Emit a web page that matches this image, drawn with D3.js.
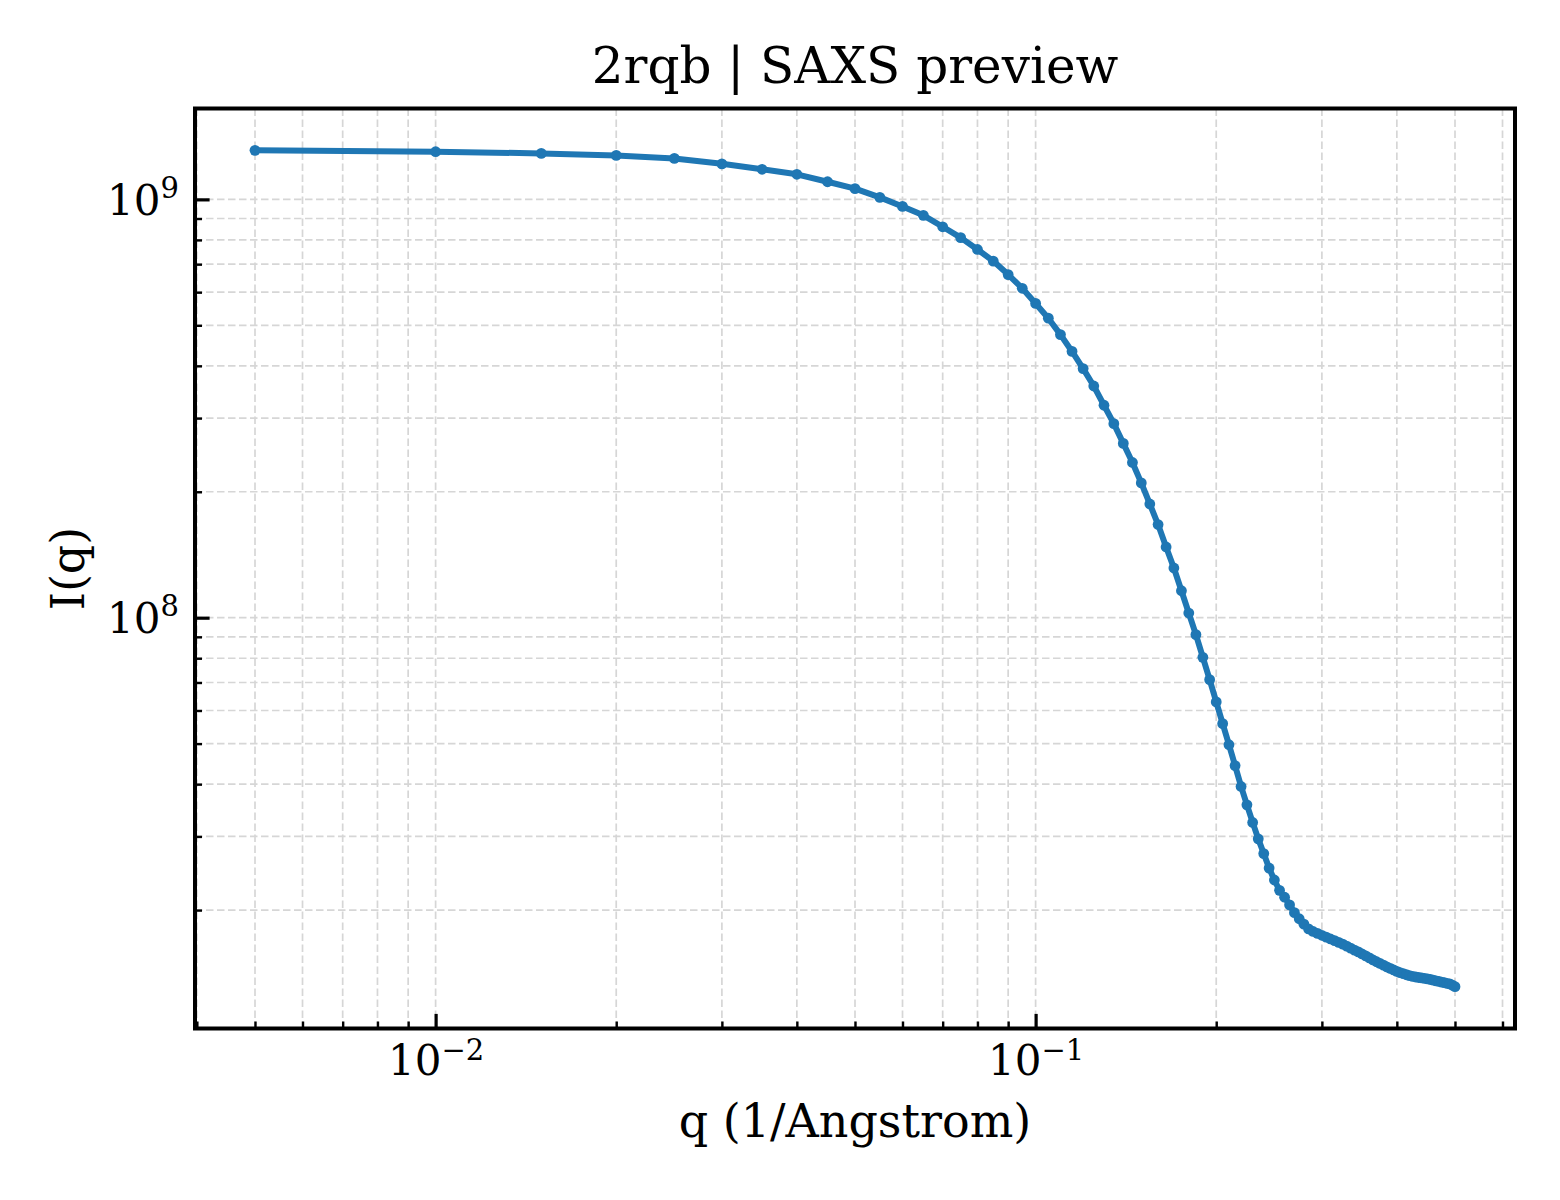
<!DOCTYPE html>
<html>
<head>
<meta charset="utf-8">
<script src="https://cdn.jsdelivr.net/npm/d3@7"></script>
<style>
  body { margin: 0; background: #fff; }
  svg text { font-family: "DejaVu Serif", serif; fill: #000; }
</style>
</head>
<body>
<div id="chart"></div>
<script>
const chartTitle = "2rqb | SAXS preview";
const xLabel = "q (1/Angstrom)";
const yLabel = "I(q)";

const qValues = [
  0.005, 0.010, 0.015, 0.020, 0.025, 0.030, 0.035, 0.040, 0.045, 0.050,
  0.055, 0.060, 0.065, 0.070, 0.075, 0.080, 0.085, 0.090, 0.095, 0.100,
  0.105, 0.110, 0.115, 0.120, 0.125, 0.130, 0.135, 0.140, 0.145, 0.150,
  0.155, 0.160, 0.165, 0.170, 0.175, 0.180, 0.185, 0.190, 0.195, 0.200,
  0.205, 0.210, 0.215, 0.220, 0.225, 0.230, 0.235, 0.240, 0.245, 0.250,
  0.255, 0.260, 0.265, 0.270, 0.275, 0.280, 0.285, 0.290, 0.295, 0.300,
  0.305, 0.310, 0.315, 0.320, 0.325, 0.330, 0.335, 0.340, 0.345, 0.350,
  0.355, 0.360, 0.365, 0.370, 0.375, 0.380, 0.385, 0.390, 0.395, 0.400,
  0.405, 0.410, 0.415, 0.420, 0.425, 0.430, 0.435, 0.440, 0.445, 0.450,
  0.455, 0.460, 0.465, 0.470, 0.475, 0.480, 0.485, 0.490, 0.495, 0.500
];

const intensity = [
  1.310e9, 1.300e9, 1.288e9, 1.274e9, 1.253e9, 1.216e9, 1.180e9, 1.148e9, 1.102e9, 1.061e9,
  1.011e9, 9.62e8, 9.16e8, 8.60e8, 8.10e8, 7.59e8, 7.12e8, 6.61e8, 6.13e8, 5.64e8,
  5.20e8, 4.75e8, 4.33e8, 3.94e8, 3.58e8, 3.22e8, 2.91e8, 2.61e8, 2.35e8, 2.10e8,
  1.87e8, 1.67e8, 1.476e8, 1.315e8, 1.160e8, 1.026e8, 9.11e7, 8.04e7, 7.11e7, 6.29e7,
  5.58e7, 4.97e7, 4.43e7, 3.95e7, 3.57e7, 3.24e7, 2.96e7, 2.73e7, 2.52e7, 2.36e7,
  2.23e7, 2.147e7, 2.058e7, 1.972e7, 1.907e7, 1.851e7, 1.804e7, 1.778e7, 1.759e7, 1.741e7,
  1.723e7, 1.706e7, 1.690e7, 1.674e7, 1.658e7, 1.640e7, 1.622e7, 1.605e7, 1.589e7, 1.571e7,
  1.554e7, 1.537e7, 1.520e7, 1.505e7, 1.491e7, 1.477e7, 1.463e7, 1.451e7, 1.439e7, 1.427e7,
  1.417e7, 1.409e7, 1.401e7, 1.394e7, 1.388e7, 1.384e7, 1.380e7, 1.377e7, 1.373e7, 1.369e7,
  1.365e7, 1.360e7, 1.355e7, 1.351e7, 1.345e7, 1.341e7, 1.336e7, 1.332e7, 1.323e7, 1.312e7
];

const xMajorTicks = [0.01, 0.1];
const xTickExponents = ["\u22122", "\u22121"];
const yMajorTicks = [1e8, 1e9];
const yTickExponents = ["8", "9"];

const width = 1560;
const height = 1200;
const box = { left: 195, right: 1515, top: 108.5, bottom: 1028.5 };
const blue = "#1f77b4";

// 5% padding in log space, like matplotlib autoscale
function logPad(lo, hi) {
  const a = Math.log10(lo), b = Math.log10(hi), p = (b - a) * 0.05;
  return [Math.pow(10, a - p), Math.pow(10, b + p)];
}

const data = qValues.map((q, i) => ({ q: q, I: intensity[i] }));

const x = d3.scaleLog()
  .domain(logPad(d3.min(qValues), d3.max(qValues)))
  .range([box.left, box.right]);
const y = d3.scaleLog()
  .domain(logPad(d3.min(intensity), d3.max(intensity)))
  .range([box.bottom, box.top]);

const svg = d3.select("#chart")
  .append("svg")
  .attr("width", width)
  .attr("height", height);

const xAll = x.ticks().filter((d) => d >= x.domain()[0] && d <= x.domain()[1]);
const yAll = y.ticks().filter((d) => d >= y.domain()[0] && d <= y.domain()[1]);
const isMajor = (d) => Math.abs(Math.log10(d) - Math.round(Math.log10(d))) < 1e-9;
const xMinor = xAll.filter((d) => !isMajor(d));
const yMinor = yAll.filter((d) => !isMajor(d));

// grid
const grid = svg.append("g")
  .attr("stroke", "#d6d6d6")
  .attr("stroke-width", 1.7)
  .attr("stroke-dasharray", "7.5,3.5");

grid.selectAll(".vgrid")
  .data(xAll)
  .enter()
  .append("line")
  .attr("x1", (d) => x(d))
  .attr("x2", (d) => x(d))
  .attr("y1", box.top)
  .attr("y2", box.bottom);

grid.selectAll(".hgrid")
  .data(yAll)
  .enter()
  .append("line")
  .attr("x1", box.left)
  .attr("x2", box.right)
  .attr("y1", (d) => y(d))
  .attr("y2", (d) => y(d));

// curve
const line = d3.line()
  .x((d) => x(d.q))
  .y((d) => y(d.I));

svg.append("path")
  .datum(data)
  .attr("fill", "none")
  .attr("stroke", blue)
  .attr("stroke-width", 6)
  .attr("stroke-linejoin", "round")
  .attr("d", line);

svg.selectAll(".pt")
  .data(data)
  .enter()
  .append("circle")
  .attr("cx", (d) => x(d.q))
  .attr("cy", (d) => y(d.I))
  .attr("r", 5.4)
  .attr("fill", blue);

// axes, ticks pointing inward
function styleAxis(g) {
  g.select(".domain").remove();
  g.selectAll(".tick line").attr("stroke", "#000");
}

svg.append("g")
  .attr("transform", `translate(0,${box.bottom})`)
  .call(d3.axisBottom(x).tickValues(xMinor).tickSizeInner(-7).tickSizeOuter(0).tickFormat(""))
  .call(styleAxis)
  .selectAll(".tick line").attr("stroke-width", 2.4);

const xMaj = svg.append("g")
  .attr("transform", `translate(0,${box.bottom})`)
  .call(d3.axisBottom(x).tickValues(xMajorTicks).tickSizeInner(-14.6).tickSizeOuter(0).tickFormat(""))
  .call(styleAxis);
xMaj.selectAll(".tick line").attr("stroke-width", 3.2);
xMaj.selectAll(".tick text")
  .attr("y", 46.5)
  .attr("dy", null)
  .attr("font-size", 42)
  .attr("text-anchor", "middle")
  .each(function (d, i) {
    const t = d3.select(this);
    t.append("tspan").text("10");
    t.append("tspan").attr("font-size", 29).attr("dy", -15).text(xTickExponents[i]);
  });

svg.append("g")
  .attr("transform", `translate(${box.left},0)`)
  .call(d3.axisLeft(y).tickValues(yMinor).tickSizeInner(-7).tickSizeOuter(0).tickFormat(""))
  .call(styleAxis)
  .selectAll(".tick line").attr("stroke-width", 2.4);

const yMaj = svg.append("g")
  .attr("transform", `translate(${box.left},0)`)
  .call(d3.axisLeft(y).tickValues(yMajorTicks).tickSizeInner(-14.6).tickSizeOuter(0).tickFormat(""))
  .call(styleAxis);
yMaj.selectAll(".tick line").attr("stroke-width", 3.2);
yMaj.selectAll(".tick text")
  .attr("x", -16)
  .attr("dy", null)
  .attr("y", 15)
  .attr("font-size", 42)
  .attr("text-anchor", "end")
  .each(function (d, i) {
    const t = d3.select(this);
    t.append("tspan").text("10");
    t.append("tspan").attr("font-size", 29).attr("dy", -17).text(yTickExponents[i]);
  });

// frame
svg.append("rect")
  .attr("x", box.left)
  .attr("y", box.top)
  .attr("width", box.right - box.left)
  .attr("height", box.bottom - box.top)
  .attr("fill", "none")
  .attr("stroke", "#000")
  .attr("stroke-width", 4);

// labels
svg.append("text")
  .attr("x", (box.left + box.right) / 2)
  .attr("y", 83)
  .attr("text-anchor", "middle")
  .attr("font-size", 50)
  .text(chartTitle);

svg.append("text")
  .attr("x", (box.left + box.right) / 2)
  .attr("y", 1137)
  .attr("text-anchor", "middle")
  .attr("font-size", 46)
  .text(xLabel);

svg.append("text")
  .attr("transform", `translate(84,${(box.top + box.bottom) / 2}) rotate(-90)`)
  .attr("text-anchor", "middle")
  .attr("font-size", 46)
  .text(yLabel);
</script>
</body>
</html>
